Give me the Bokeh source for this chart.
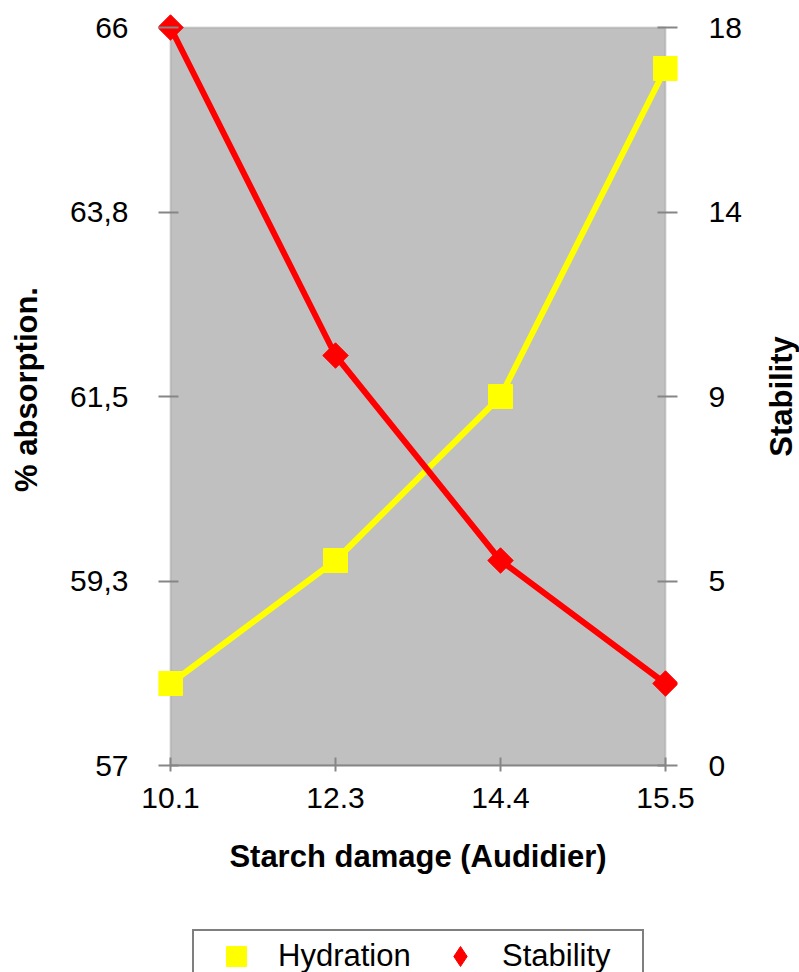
import math
from bokeh.plotting import figure
from bokeh.layouts import row, column
from bokeh.models import (Range1d, LinearAxis, FixedTicker, Legend, LegendItem,
                          ColumnDataSource, BoxAnnotation)
from bokeh.core.properties import value
from bokeh.embed import file_html
from bokeh.resources import INLINE

# ---- data ----
categories = ["10.1", "12.3", "14.4", "15.5"]
hydration = [58.0, 59.5, 61.5, 65.5]
stability = [18, 10, 5, 2]

left_ticks = [57, 59.25, 61.5, 63.75, 66]
left_labels = ["57", "59,3", "61,5", "63,8", "66"]
right_ticks = [0, 4.5, 9, 13.5, 18]
right_labels = ["0", "5", "9", "14", "18"]

FONT = "Liberation Sans"
AXIS_GRAY = "#868686"

# ---- layout sizes (pixels) ----
MAIN_W, STRIP_W = 759, 40
MAIN_H, LEG_H = 900, 72
BOX_W, BOX_H = 495, 738           # gray plot-area box
B_LEFT, B_RIGHT, B_TOP = 170, 94, 27
B_BOTTOM = MAIN_H - 765
PAD_X, PAD_T = 12, 14             # room so edge markers are not clipped

x_idx = list(range(len(categories)))
x_span = x_idx[-1] - x_idx[0]
l_span = left_ticks[-1] - left_ticks[0]
r_span = right_ticks[-1] - right_ticks[0]
src = ColumnDataSource(dict(x=x_idx, hyd=hydration, stab=stability))

y_left = Range1d(left_ticks[0], left_ticks[-1] + l_span * PAD_T / BOX_H)

p = figure(width=MAIN_W, height=MAIN_H, output_backend="svg",
           toolbar_location=None,
           x_range=Range1d(x_idx[0] - x_span * PAD_X / BOX_W,
                           x_idx[-1] + x_span * PAD_X / BOX_W),
           y_range=y_left,
           min_border_left=B_LEFT - PAD_X, min_border_right=B_RIGHT - PAD_X,
           min_border_top=B_TOP - PAD_T, min_border_bottom=B_BOTTOM)
p.extra_y_ranges = {"stab": Range1d(right_ticks[0],
                                    right_ticks[-1] + r_span * PAD_T / BOX_H)}

p.background_fill_color = "white"
p.border_fill_color = "white"
p.outline_line_color = None
p.xgrid.visible = False
p.ygrid.visible = False

# gray plot-area box with its border
p.add_layout(BoxAnnotation(left=x_idx[0], right=x_idx[-1],
                           bottom=left_ticks[0], top=left_ticks[-1],
                           fill_color="#C0C0C0", fill_alpha=1,
                           line_color=AXIS_GRAY, line_width=2,
                           level="underlay"))

# x axis
xa = p.xaxis[0]
xa.ticker = FixedTicker(ticks=x_idx)
xa.major_label_overrides = {i: c for i, c in zip(x_idx, categories)}
xa.axis_label = "Starch damage (Audidier)"
xa.bounds = (x_idx[0], x_idx[-1])

# left axis
ya = p.yaxis[0]
ya.ticker = FixedTicker(ticks=left_ticks)
ya.major_label_overrides = {t: l for t, l in zip(left_ticks, left_labels)}
ya.axis_label = "% absorption."

# right axis (its title is drawn in the strip at the right)
ra = LinearAxis(y_range_name="stab")
ra.ticker = FixedTicker(ticks=right_ticks)
ra.major_label_overrides = {t: l for t, l in zip(right_ticks, right_labels)}
p.add_layout(ra, "right")

for ax in (xa, ya, ra):
    ax.axis_line_color = AXIS_GRAY
    ax.axis_line_width = 2
    ax.major_tick_line_color = AXIS_GRAY
    ax.major_tick_line_width = 2
    ax.minor_tick_line_color = None
    ax.major_label_text_font = FONT
    ax.major_label_text_font_size = "30px"
    ax.major_label_text_color = "black"
    ax.axis_label_text_font = FONT
    ax.axis_label_text_font_size = "31px"
    ax.axis_label_text_font_style = "bold"
    ax.axis_label_text_color = "black"

# vertical axis lines come from the box border
ya.axis_line_color = None
ra.axis_line_color = None

xa.major_tick_in = 8
xa.major_tick_out = 6
xa.major_label_standoff = 16
xa.axis_label_standoff = 28
ya.major_tick_in = 8 + PAD_X
ya.major_tick_out = 0
ya.major_label_standoff = 42 - PAD_X
ya.axis_label_standoff = 23
ra.major_tick_in = 8 + PAD_X
ra.major_tick_out = 0
ra.major_label_standoff = 43 - PAD_X

# series
p.line("x", "hyd", source=src, line_color="#FFFF00", line_width=6)
p.scatter("x", "hyd", source=src, marker="square", size=24,
          fill_color="#FFFF00", line_color="#FFFF00")
p.line("x", "stab", source=src, y_range_name="stab",
       line_color="#FF0000", line_width=6)
p.scatter("x", "stab", source=src, y_range_name="stab", marker="square",
          angle=math.pi / 4, size=18, fill_color="#FF0000",
          line_color="#FF0000")

# ---- right-axis title strip (same vertical frame as the main plot) ----
s = figure(width=STRIP_W, height=MAIN_H, output_backend="svg",
           toolbar_location=None, x_axis_location=None, y_axis_location=None,
           x_range=Range1d(0, 1), y_range=y_left,
           min_border_left=0, min_border_right=0,
           min_border_top=B_TOP - PAD_T, min_border_bottom=B_BOTTOM)
s.outline_line_color = None
s.xgrid.visible = False
s.ygrid.visible = False
s.text(x=[0.55], y=[(left_ticks[0] + left_ticks[-1]) / 2], text=["Stability"],
       angle=math.pi / 2, text_align="center", text_baseline="middle",
       text_font=value(FONT), text_font_style="bold",
       text_font_size="31px", text_color="black")

# ---- legend strip ----
lg = figure(width=MAIN_W + STRIP_W, height=LEG_H, output_backend="svg",
            toolbar_location=None, x_axis_location=None, y_axis_location=None,
            x_range=Range1d(-20, -10), y_range=Range1d(-20, -10),
            min_border_left=0, min_border_right=0,
            min_border_top=0, min_border_bottom=0)
lg.outline_line_color = None
lg.xgrid.visible = False
lg.ygrid.visible = False
k1 = lg.scatter("x", "hyd", source=src, marker="square",
                fill_color="#FFFF00", line_color="#FFFF00")
k2 = lg.scatter("x", "stab", source=src, marker="diamond",
                fill_color="#FF0000", line_color="#FF0000")

legend = Legend(items=[LegendItem(label="Hydration", renderers=[k1]),
                       LegendItem(label="Stability", renderers=[k2])],
                orientation="horizontal", location=(192, -11))
legend.label_text_font = FONT
legend.label_text_font_size = "31px"
legend.label_text_color = "black"
legend.border_line_color = "black"
legend.border_line_width = 2
legend.background_fill_color = "white"
legend.background_fill_alpha = 1
legend.glyph_width = 84
legend.glyph_height = 50
legend.label_standoff = 0
legend.label_width = 140
legend.spacing = 0
legend.padding = 0
legend.margin = 0
lg.add_layout(legend, "center")

layout = column(row(p, s), lg)
open("out.html", "w").write(file_html(layout, INLINE))
